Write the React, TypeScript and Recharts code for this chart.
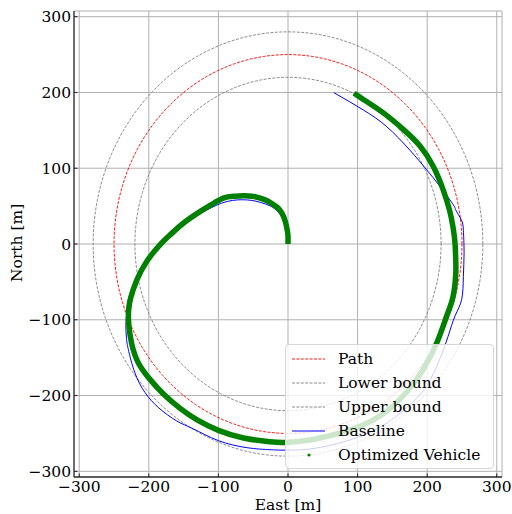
import React from 'react'
import { LineChart, Line, XAxis, YAxis, CartesianGrid, Legend } from 'recharts'

// path radius and corridor bounds [m]
const pathRadius = 250
const lowerRadius = 220
const upperRadius = 280

const ticks = [-300, -200, -100, 0, 100, 200, 300]
const domain: [number, number] = [-307.5, 307.5]

// baseline trajectory (East, North)
const baselineEast = [
  0, 0, -3, -8, -15, -25, -40, -52, -65, -80, -95, -110, -126, -150, -167, -184, -203, -215, -224, -229.5,
  -231.8, -233, -232, -229.5, -220, -205.5, -186, -160, -136, -100, -59, -26, -11.5, 3, 36, 84, 132, 170.5,
  199, 218, 230, 240, 249.6, 252, 253, 252, 249, 241, 237.5, 218.4, 199.3, 175, 141.8, 108, 66,
]
const baselineNorth = [
  0, 12, 25, 35, 43, 50, 55, 57.5, 58.4, 57.5, 54, 48, 40, 25, 12, -2, -24, -45, -62, -73, -91, -108.6,
  -125, -139, -170, -196, -216, -233.5, -244, -259.5, -268.8, -271.5, -272, -272, -270, -260, -242, -216,
  -187.6, -152, -122, -95, -73, -42.7, -12, 18, 32, 45, 51.8, 75.9, 97.9, 124, 154.9, 177, 199.7,
]

// optimized vehicle trajectory
const optimizedEast = [
  0, 0, -1, -4, -9, -15, -21, -30, -40, -52, -64, -78, -93, -110, -126, -150, -167, -184, -203, -217, -226,
  -229, -229, -225, -215, -198, -179, -155, -130, -100, -64, -26, -7, 10, 36, 84, 132, 170, 194, 214, 228,
  237, 241, 241, 240, 237, 232, 223, 209, 190, 166, 137, 113, 95,
]
const optimizedNorth = [
  0, 10, 18, 30, 41, 48, 52, 57, 60.6, 63, 63.6, 63, 60.6, 52, 43, 27.7, 14, -1, -23, -47, -71, -87, -104,
  -130, -157, -179, -198, -217, -232.5, -246, -256, -261, -262, -261, -258, -247, -227, -196, -166, -130,
  -95, -70, -40, -20, 1, 23, 45, 71.5, 102, 129, 151, 173, 188, 199,
]

const FONT = 'DejaVu Serif'

const circle = (r: number) =>
  Array.from({ length: 181 }, (_, i) => {
    const a = (i * 2 * Math.PI) / 180
    return { x: r * Math.cos(a), y: r * Math.sin(a) }
  })

const zip = (xs: number[], ys: number[]) => xs.map((x, i) => ({ x, y: ys[i] }))

const fmt = (v: number) => (v < 0 ? `\u2212${Math.abs(v)}` : `${v}`)

const BottomTick = (props: any) => {
  const { x, y, payload } = props
  return (
    <g>
      <line x1={x} y1={y} x2={x} y2={y - 3.5} stroke="#222" strokeWidth={1} />
      <text x={x} y={y + 15} textAnchor="middle" fontFamily={FONT} fontSize={15.5} fill="#000">
        {fmt(payload.value)}
      </text>
    </g>
  )
}

const LeftTick = (props: any) => {
  const { x, y, payload } = props
  return (
    <g>
      <line x1={x} y1={y} x2={x + 3.5} y2={y} stroke="#222" strokeWidth={1} />
      <text x={x - 3} y={y + 5.5} textAnchor="end" fontFamily={FONT} fontSize={15.5} fill="#000">
        {fmt(payload.value)}
      </text>
    </g>
  )
}

const TopTick = (props: any) => (
  <line x1={props.x} y1={props.y} x2={props.x} y2={props.y + 3.5} stroke="#222" strokeWidth={1} />
)

const RightTick = (props: any) => (
  <line x1={props.x} y1={props.y} x2={props.x - 3.5} y2={props.y} stroke="#222" strokeWidth={1} />
)

const legendItems = [
  { label: 'Path', color: 'red', kind: 'dash' },
  { label: 'Lower bound', color: 'gray', kind: 'dash' },
  { label: 'Upper bound', color: 'gray', kind: 'dash' },
  { label: 'Baseline', color: 'blue', kind: 'line' },
  { label: 'Optimized Vehicle', color: 'green', kind: 'dot' },
]

const LegendBox = () => (
  <div
    style={{
      width: '100%',
      height: '100%',
      boxSizing: 'border-box',
      border: '1px solid #d6d6d6',
      borderRadius: 4,
      background: 'rgba(255,255,255,0.8)',
      paddingTop: 2,
    }}
  >
    {legendItems.map((it) => (
      <div key={it.label} style={{ display: 'flex', alignItems: 'center', height: 24 }}>
        <svg width={52} height={24} style={{ flex: 'none' }}>
          {it.kind === 'dot' ? (
            <circle cx={23} cy={12} r={1.6} fill={it.color} />
          ) : (
            <line
              x1={6}
              y1={12}
              x2={39}
              y2={12}
              stroke={it.color}
              strokeWidth={it.kind === 'line' ? 1 : 0.9}
              strokeDasharray={it.kind === 'dash' ? '3 1.4' : undefined}
            />
          )}
        </svg>
        <span style={{ fontFamily: FONT, fontSize: 15.5, color: '#000', whiteSpace: 'nowrap' }}>
          {it.label}
        </span>
      </div>
    ))}
  </div>
)

export default function App() {
  const axisLine = { stroke: '#333', strokeWidth: 1.3 }
  return (
    <div style={{ position: 'absolute', left: 0, top: 0, width: 512, height: 514, background: '#fff' }}>
      <LineChart width={512} height={514} margin={{ top: 11, right: 10, bottom: 0, left: 0 }}>
        <CartesianGrid stroke="#b0b0b0" strokeWidth={1} />
        <XAxis
          dataKey="x"
          type="number"
          domain={domain}
          ticks={ticks}
          allowDataOverflow
          height={37}
          tickSize={0}
          tickMargin={0}
          axisLine={axisLine}
          tick={<BottomTick />}
          interval={0}
          label={{ value: 'East [m]', position: 'insideBottom', offset: 4, fontFamily: FONT, fontSize: 15.5, fill: '#000' }}
        />
        <XAxis
          xAxisId="top"
          orientation="top"
          dataKey="x"
          type="number"
          domain={domain}
          ticks={ticks}
          allowDataOverflow
          height={0}
          tickSize={0}
          tickMargin={0}
          axisLine={axisLine}
          tick={<TopTick />}
          interval={0}
        />
        <YAxis
          dataKey="y"
          type="number"
          domain={domain}
          ticks={ticks}
          allowDataOverflow
          width={74}
          tickSize={0}
          tickMargin={0}
          axisLine={axisLine}
          tick={<LeftTick />}
          interval={0}
          label={{ value: 'North [m]', angle: -90, position: 'insideLeft', offset: 16, fontFamily: FONT, fontSize: 15.5, fill: '#000', dy: 38 }}
        />
        <YAxis
          yAxisId="right"
          orientation="right"
          dataKey="y"
          type="number"
          domain={domain}
          ticks={ticks}
          allowDataOverflow
          width={0}
          tickSize={0}
          tickMargin={0}
          axisLine={axisLine}
          tick={<RightTick />}
          interval={0}
        />
        <Line data={circle(pathRadius)} dataKey="y" stroke="red" strokeWidth={0.9} strokeDasharray="3 1.4" dot={false} isAnimationActive={false} />
        <Line data={circle(lowerRadius)} dataKey="y" stroke="gray" strokeWidth={0.9} strokeDasharray="3 1.4" dot={false} isAnimationActive={false} />
        <Line data={circle(upperRadius)} dataKey="y" stroke="gray" strokeWidth={0.9} strokeDasharray="3 1.4" dot={false} isAnimationActive={false} />
        <Line data={zip(baselineEast, baselineNorth)} dataKey="y" type="natural" stroke="blue" strokeWidth={1} dot={false} isAnimationActive={false} />
        <Line data={zip(optimizedEast, optimizedNorth)} dataKey="y" type="natural" stroke="green" strokeWidth={5.5} strokeLinejoin="round" dot={false} isAnimationActive={false} />
        <Legend
          layout="vertical"
          align="center"
          verticalAlign="middle"
          content={<LegendBox />}
          wrapperStyle={{ left: 285, top: 344, width: 209, height: 125 }}
        />
      </LineChart>
    </div>
  )
}
